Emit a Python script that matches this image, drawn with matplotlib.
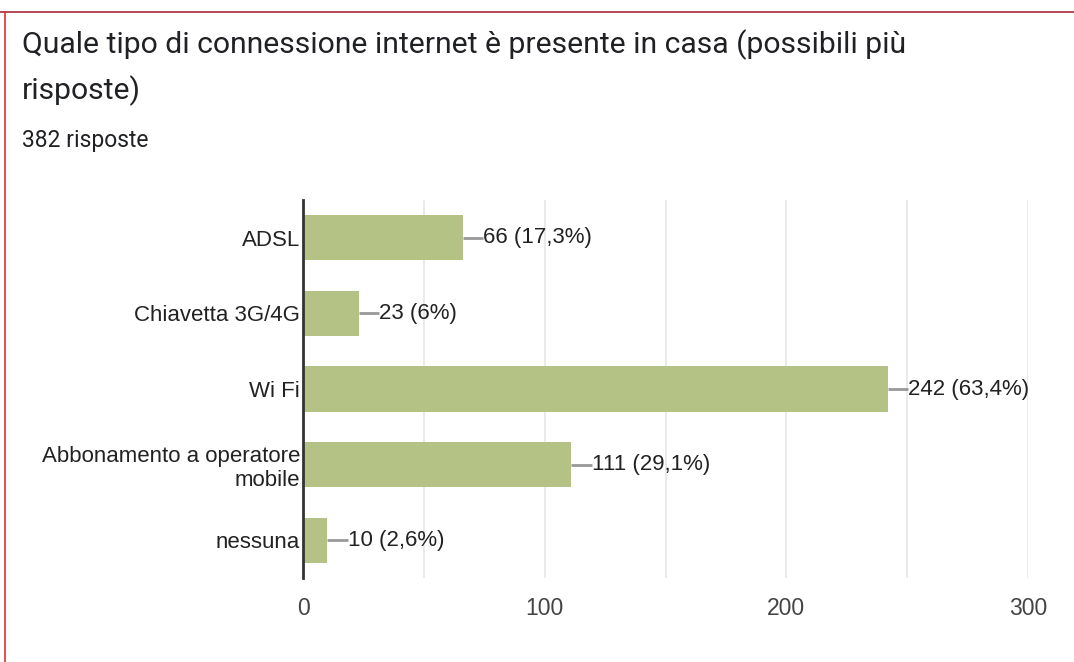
import matplotlib
matplotlib.use("Agg")
import matplotlib.pyplot as plt
from matplotlib.lines import Line2D

categories = ["ADSL", "Chiavetta 3G/4G", "Wi Fi", "Abbonamento a operatore\nmobile", "nessuna"]
counts = [66, 23, 242, 111, 10]
labels = ["66 (17,3%)", "23 (6%)", "242 (63,4%)", "111 (29,1%)", "10 (2,6%)"]
xticks = [0, 100, 200, 300]

bar_color = "#b5c286"
text_color = "#222222"

plt.rcParams["font.family"] = ["Liberation Sans", "DejaVu Sans"]

fig = plt.figure(figsize=(10.74, 6.62), dpi=100)
fig.patch.set_facecolor("white")

# frame lines of the screenshot (top and left, red)
fig.add_artist(Line2D([0, 1], [1 - 12 / 662, 1 - 12 / 662], color="#a52a3a", lw=1.2,
                      transform=fig.transFigure))
fig.add_artist(Line2D([5 / 1074, 5 / 1074], [0, 1 - 12 / 662], color="#e03030", lw=1.2,
                      transform=fig.transFigure))

fig.text(22 / 1074, 1 - 45 / 662, "Quale tipo di connessione internet è presente in casa (possibili più",
         fontsize=21.7, family="Roboto", color="#202124", va="center", ha="left")
fig.text(22 / 1074, 1 - 91 / 662, "risposte)",
         fontsize=21.7, family="Roboto", color="#202124", va="center", ha="left")
fig.text(22 / 1074, 1 - 141 / 662, "382 risposte",
         fontsize=16.5, family="Roboto", color="#202124", va="center", ha="left")

ax = fig.add_axes([303 / 1074, 1 - 578 / 662, (1028 - 303) / 1074, (578 - 200) / 662])
y = list(range(len(categories)))
ax.barh(y, counts, height=0.6, color=bar_color, zorder=2)
ax.set_ylim(len(categories) - 0.5, -0.5)
ax.set_xlim(0, 300)

for yi, c, lab in zip(y, counts, labels):
    ax.plot([c, c + 8.5], [yi, yi], color="#999999", lw=2, zorder=3, solid_capstyle="butt")
    ax.text(c + 8.5, yi, lab, va="center", ha="left", fontsize=16, color=text_color)

ax.set_xticks(xticks)
ax.set_xticks([50, 150, 250], minor=True)
ax.grid(axis="x", which="both", color="#e6e6e6", lw=1.2, zorder=0)
ax.set_yticks(y)
ax.set_yticklabels(categories, fontsize=16, color=text_color, linespacing=1.15)
ax.tick_params(axis="y", length=0, pad=2)
ax.tick_params(axis="x", which="both", length=0, pad=14, labelsize=16.5, labelcolor="#444444")

for s in ["top", "right", "bottom"]:
    ax.spines[s].set_visible(False)
ax.spines["left"].set_color("#333333")
ax.spines["left"].set_linewidth(2)
ax.spines["left"].set_zorder(4)
ax.set_axisbelow(True)

fig.savefig("out.png", dpi=100, facecolor="white")
